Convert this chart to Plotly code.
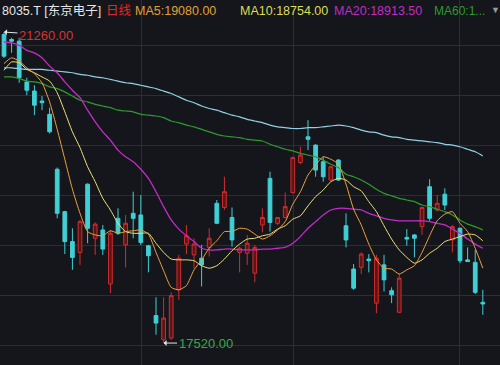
import plotly.graph_objects as go

# ---- data ----
idx = list(range(64))
open_ = [21230, 21170, 21150, 20660, 20550, 20430, 20270, 19610, 19100, 18740,
         18610, 19430, 18780, 18880, 18230, 19020, 18700, 19080, 19060, 18690,
         17850, 17560, 17580, 18160, 18710, 18580, 18540, 18670, 19200, 19150,
         19030, 18610, 18600, 18360, 18940, 19500, 18960, 19030, 19330, 19690,
         20000, 19900, 19700, 19480, 19720, 18930, 18410, 18430, 18530, 18000,
         18460, 18150, 17890, 18790, 18820, 18920, 19400, 19120, 19310, 18760,
         18900, 18520, 18490, 18010]
high = [21260, 21190, 21190, 20710, 20620, 20490, 20350, 19630, 19110, 18900,
        19000, 19440, 18970, 18940, 18880, 19140, 19060, 19340, 19300, 18700,
        18070, 18070, 18130, 18580, 18940, 18780, 18700, 18900, 19240, 19520,
        19150, 18680, 18820, 18700, 19140, 19580, 19030, 19330, 19760, 19880,
        20200, 19910, 19760, 19650, 19730, 19080, 18470, 18610, 18590, 18580,
        18580, 18190, 18350, 18890, 18830, 19160, 19490, 19300, 19380, 18940,
        18910, 18670, 18640, 18160]
low = [20950, 21010, 20650, 20500, 20260, 20320, 20040, 19020, 18590, 18400,
       18460, 18720, 18580, 18580, 18120, 18820, 18430, 18780, 18700, 18370,
       17620, 17520, 17560, 18040, 18590, 18420, 18200, 18560, 18950, 19120,
       18680, 18370, 18460, 18250, 18850, 18860, 18940, 19020, 19320, 19670,
       19840, 19520, 19460, 19470, 19470, 18670, 18160, 18350, 18370, 17880,
       18140, 18000, 17880, 18690, 18550, 18820, 18990, 19100, 19120, 18610,
       18480, 18500, 18110, 17860]
close = [20970, 21150, 20710, 20560, 20380, 20410, 20060, 19080, 18740, 18550,
         18980, 18900, 18950, 18650, 18840, 18840, 18960, 19020, 18730, 18570,
         17760, 17820, 18090, 18540, 18810, 18710, 18460, 18780, 18960, 19340,
         18760, 18660, 18720, 18670, 19030, 18970, 19030, 19160, 19750, 19780,
         19970, 19600, 19520, 19640, 19480, 18760, 18180, 18590, 18510, 18540,
         18280, 18100, 18300, 18770, 18780, 19150, 19020, 19200, 19180, 18920,
         18510, 18500, 18130, 17990]

ma5 = [20880, 20950, 20910, 20830, 20760, 20650, 20420, 20090, 19730, 19370,
       19080, 18860, 18820, 18810, 18870, 18840, 18860, 18870, 18880, 18830,
       18610, 18390, 18190, 18160, 18210, 18400, 18520, 18660, 18750, 18860,
       18860, 18900, 18890, 18830, 18770, 18810, 18880, 18980, 19190, 19340,
       19540, 19660, 19760, 19730, 19670, 19430, 19130, 18940, 18710, 18520,
       18420, 18410, 18350, 18400, 18450, 18610, 18810, 18990, 19070, 19100,
       18960, 18860, 18660, 18420]
ma10 = [20800, 20900, 20890, 20810, 20770, 20720, 20670, 20530, 20300, 20060,
        19870, 19640, 19460, 19260, 19120, 18960, 18860, 18840, 18840, 18840,
        18720, 18610, 18530, 18520, 18520, 18510, 18450, 18420, 18450, 18530,
        18630, 18710, 18770, 18780, 18810, 18830, 18890, 18930, 19010, 19050,
        19170, 19280, 19360, 19460, 19500, 19480, 19400, 19350, 19220, 19100,
        18930, 18770, 18640, 18550, 18480, 18520, 18600, 18660, 18740, 18770,
        18800, 18830, 18820, 18750]
ma20 = [21140, 21130, 21100, 21040, 21010, 20950, 20850, 20770, 20660, 20560,
        20470, 20320, 20180, 20060, 19960, 19840, 19760, 19700, 19610, 19500,
        19340, 19160, 19000, 18890, 18810, 18740, 18660, 18640, 18640, 18650,
        18650, 18640, 18640, 18640, 18650, 18650, 18660, 18670, 18720, 18800,
        18900, 18980, 19060, 19120, 19140, 19140, 19130, 19120, 19080, 19050,
        19020, 19000, 18990, 18990, 18990, 18990, 18980, 18960, 18940, 18890,
        18840, 18770, 18710, 18660]
ma60 = [20720, 20720, 20700, 20670, 20660, 20640, 20600, 20580, 20540, 20490,
        20440, 20420, 20390, 20370, 20350, 20320, 20310, 20300, 20270, 20260,
        20250, 20230, 20190, 20170, 20140, 20120, 20090, 20060, 20030, 20010,
        20000, 19990, 19970, 19960, 19950, 19910, 19880, 19850, 19830, 19800,
        19780, 19760, 19720, 19670, 19630, 19550, 19520, 19480, 19430, 19370,
        19320, 19290, 19260, 19240, 19220, 19180, 19160, 19130, 19100, 19060,
        19000, 18950, 18920, 18880]
ma120 = [20830, 20830, 20820, 20810, 20810, 20810, 20800, 20790, 20780, 20770,
         20750, 20740, 20720, 20710, 20690, 20670, 20650, 20640, 20620, 20600,
         20580, 20550, 20520, 20480, 20440, 20410, 20370, 20340, 20320, 20290,
         20260, 20240, 20210, 20190, 20170, 20140, 20120, 20110, 20100, 20100,
         20110, 20110, 20120, 20130, 20140, 20130, 20110, 20080, 20060, 20050,
         20020, 20000, 19990, 19970, 19960, 19950, 19940, 19930, 19910, 19900,
         19880, 19850, 19820, 19770]

hi_label, lo_label = "21260.00", "17520.00"
hi_idx, lo_idx = 0, 21

BG = "#15161c"
GRID = "#2d2e34"
UP_LINE, UP_FILL = "#d22c2c", "#5a1616"
DN = "#3fd0d6"

fig = go.Figure()
for vals, col, w in [(ma120, "#8fd0e4", 1.2), (ma60, "#2e9a2e", 1.2),
                     (ma20, "#c22cc6", 1.3), (ma10, "#eee27a", 1.0),
                     (ma5, "#eea040", 1.0)]:
    fig.add_trace(go.Scatter(x=idx, y=vals, mode="lines",
                             line=dict(color=col, width=w, shape="spline", smoothing=0.6),
                             hoverinfo="skip", showlegend=False))

fig.add_trace(go.Candlestick(
    x=idx, open=open_, high=high, low=low, close=close,
    increasing=dict(line=dict(color=UP_LINE, width=1), fillcolor=UP_FILL),
    decreasing=dict(line=dict(color=DN, width=1), fillcolor=DN),
    whiskerwidth=0, showlegend=False))

FONT = "Liberation Sans, Arial, Noto Sans CJK SC"
ann = []
def txt(px, py, s, col, size=12.5):
    ann.append(dict(x=px / 500, y=1 - py / 365, xref="paper", yref="paper",
                    text=s, showarrow=False, xanchor="left", yanchor="middle",
                    font=dict(family=FONT, size=size, color=col)))

txt(0, 11, "8035.T [东京电子]", "#e6e6e6")
txt(104, 11, "日线", "#e02a2a")
txt(133, 11, "MA5:19080.00", "#e2a032")
txt(238, 11, "MA10:18754.00", "#dede50")
txt(332, 11, "MA20:18913.50", "#c02cc4")
txt(432, 11, "MA60:1...", "#2e9a2e", 12)
txt(489, 10, "▼", "#9a9a9a", 9)

ann.append(dict(x=hi_idx, y=high[hi_idx], xref="x", yref="y", text=hi_label,
                showarrow=True, ax=42, ay=3, arrowhead=1, arrowsize=1,
                arrowwidth=1, arrowcolor="#e8e8e8", xanchor="center",
                font=dict(family=FONT, size=13, color="#d83232")))
ann.append(dict(x=lo_idx, y=low[lo_idx], xref="x", yref="y", text=lo_label,
                showarrow=True, ax=42, ay=0, arrowhead=1, arrowsize=1,
                arrowwidth=1, arrowcolor="#e8e8e8", xanchor="center",
                font=dict(family=FONT, size=13, color="#3aa84a")))

fig.update_layout(
    width=500, height=365, margin=dict(l=0, r=0, t=0, b=0),
    paper_bgcolor=BG, plot_bgcolor=BG, showlegend=False,
    annotations=ann,
    xaxis=dict(range=[-0.526, 65.26], rangeslider=dict(visible=False),
               tickmode="array", tickvals=[18.15, 38.1, 59.87],
               showticklabels=False, showgrid=True, gridcolor=GRID, gridwidth=1,
               zeroline=False, showline=False, fixedrange=True),
    yaxis=dict(range=[17256, 21645], tickmode="linear", tick0=21098, dtick=601.3,
               showticklabels=False, showgrid=True, gridcolor=GRID, gridwidth=1,
               zeroline=False, showline=False, fixedrange=True),
)
fig.write_html("out.html")
